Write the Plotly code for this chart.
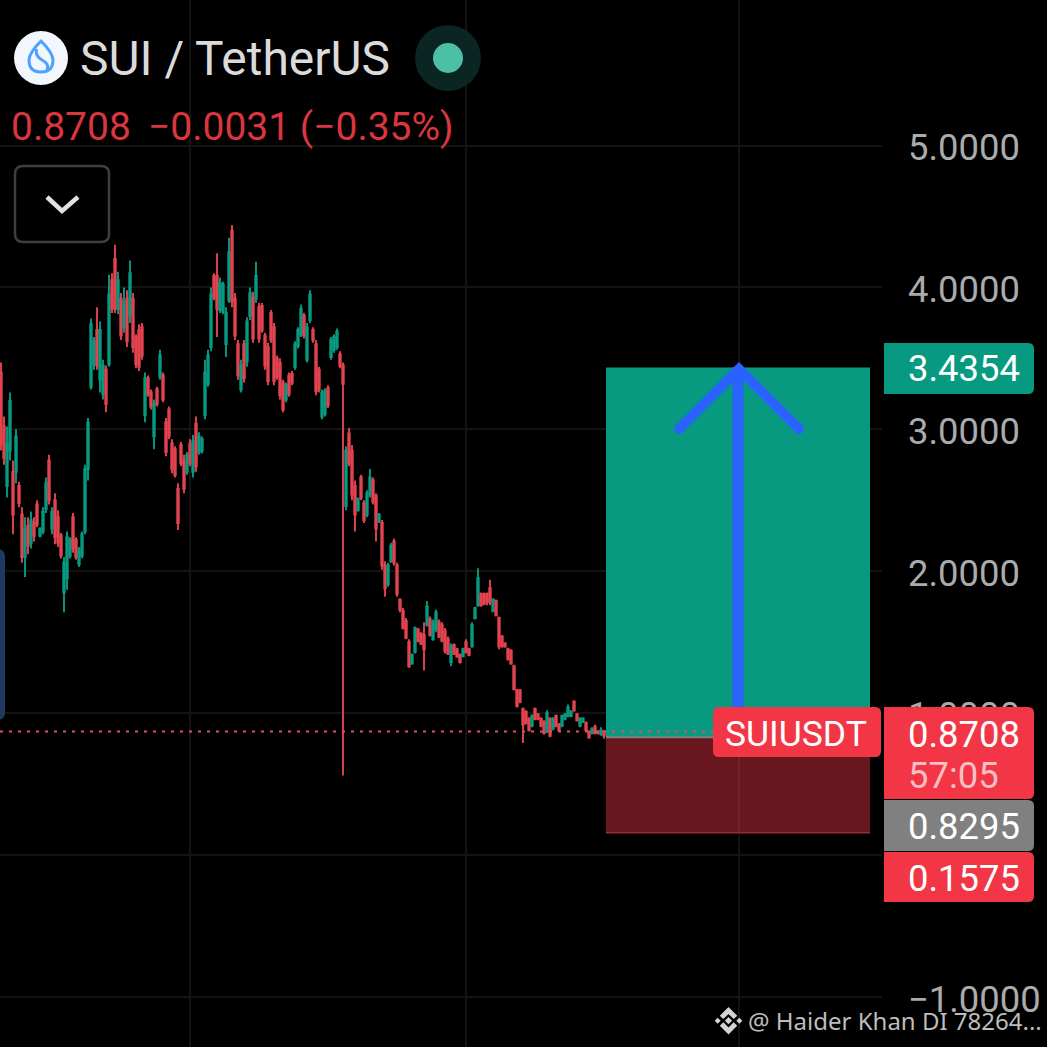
import plotly.graph_objects as go

# ---- data ----
highs = [3.47,3.09,3.02,3.26,2.78,3.00,2.63,2.45,2.38,2.38,2.42,2.38,2.50,2.31,2.45,2.66,2.82,2.45,2.55,2.43,2.27,2.10,2.28,2.24,2.41,2.24,2.17,2.28,2.75,3.08,3.78,
3.65,3.86,3.76,3.49,3.45,4.09,4.10,4.30,4.11,3.96,4.00,3.98,4.19,3.96,3.67,3.74,3.75,3.40,3.38,3.28,3.21,3.30,3.56,3.40,3.08,3.16,2.93,2.88,2.62,2.91,2.82,2.84,2.93,2.96,3.09,2.98,2.95,3.49,3.56,4.00,4.10,4.24,4.07,4.04,3.86,4.35,4.44,3.96,3.63,3.49,3.63,3.79,4.00,3.97,4.18,3.89,3.89,3.68,3.61,3.84,3.75,3.52,3.50,3.35,3.33,3.40,3.41,3.62,3.72,3.88,3.82,3.75,3.98,3.72,3.63,3.44,3.28,3.29,3.31,3.65,3.67,3.71,3.55,3.47,
2.88,3.01,2.89,2.64,2.52,2.68,2.50,2.57,2.72,2.66,2.55,2.41,2.36,2.07,2.06,2.20,2.23,2.06,1.81,1.74,1.67,1.52,1.42,1.61,1.60,1.57,1.64,1.79,1.68,1.66,1.73,1.66,1.64,1.60,1.54,1.49,1.49,1.46,1.42,1.46,1.52,1.46,1.64,1.75,2.02,1.85,1.85,1.85,1.94,1.81,1.80,1.68,1.55,1.50,1.46,1.45,1.34,1.17,1.17,1.04,1.02,0.97,0.99,1.04,1.00,0.97,0.95,1.02,0.97,0.97,0.99,0.93,0.99,1.00,1.06,1.02,1.09,1.00,0.97,0.97,0.94,0.88,0.90,0.92,0.88,0.90,0.88,0.88]
lows = [2.85,2.75,2.52,2.78,2.26,2.62,2.45,2.06,1.96,2.12,2.16,2.21,2.31,2.24,2.26,2.41,2.47,2.26,2.19,2.17,2.09,1.71,1.87,2.09,2.13,2.08,2.03,2.09,2.26,2.64,3.28,
3.42,3.42,3.26,3.21,3.12,3.44,3.82,3.82,3.81,3.63,3.68,3.58,3.75,3.54,3.43,3.41,3.49,3.05,3.23,3.14,2.86,3.16,3.35,3.19,2.81,2.93,2.69,2.66,2.29,2.74,2.55,2.68,2.74,2.66,2.70,2.82,2.83,3.07,3.30,3.55,3.91,3.65,3.82,3.81,3.51,3.89,3.86,3.63,3.35,3.26,3.33,3.44,3.77,3.61,3.89,3.61,3.68,3.42,3.31,3.61,3.31,3.35,3.21,3.12,3.19,3.23,3.31,3.42,3.57,3.65,3.64,3.47,3.75,3.61,3.24,3.26,3.07,3.09,3.15,3.49,3.54,3.56,3.43,0.56,
2.43,2.74,2.50,2.28,2.42,2.50,2.34,2.38,2.52,2.47,2.21,2.34,2.01,1.82,1.89,2.06,2.04,1.82,1.71,1.59,1.52,1.32,1.34,1.42,1.50,1.48,1.30,1.61,1.54,1.51,1.57,1.53,1.50,1.42,1.41,1.33,1.41,1.39,1.35,1.40,1.42,1.40,1.46,1.66,1.75,1.75,1.76,1.76,1.76,1.71,1.68,1.45,1.46,1.46,1.37,1.34,1.16,1.04,1.07,0.79,0.92,0.87,0.90,0.95,0.95,0.90,0.85,0.86,0.83,0.88,0.90,0.87,0.90,0.95,0.97,0.97,1.01,0.94,0.90,0.93,0.87,0.82,0.85,0.85,0.85,0.84,0.82,0.83]
opens = [3.40,3.02,2.60,2.85,2.70,2.70,2.60,2.40,2.10,2.32,2.20,2.34,2.47,2.25,2.28,2.44,2.78,2.30,2.50,2.38,2.25,1.85,1.95,2.11,2.38,2.22,2.05,2.11,2.28,2.72,3.30,
3.46,3.70,3.35,3.25,3.42,3.46,4.05,4.20,3.85,3.92,3.72,3.92,3.80,3.92,3.65,3.70,3.72,3.10,3.36,3.26,2.95,3.28,3.37,3.38,3.05,3.14,2.90,2.86,2.58,2.89,2.78,2.70,2.90,2.70,3.04,2.84,2.85,3.10,3.32,3.58,4.08,4.08,3.84,3.83,3.60,3.91,4.40,3.92,3.60,3.28,3.60,3.48,3.80,3.93,3.92,3.86,3.87,3.66,3.58,3.82,3.72,3.50,3.47,3.33,3.21,3.38,3.39,3.44,3.59,3.67,3.80,3.49,3.77,3.70,3.60,3.42,3.09,3.11,3.29,3.51,3.56,3.58,3.53,3.45,
2.46,2.97,2.85,2.60,2.43,2.66,2.48,2.40,2.54,2.64,2.53,2.35,2.34,2.04,1.91,2.07,2.21,2.04,1.80,1.72,1.65,1.50,1.35,1.43,1.59,1.56,1.55,1.62,1.66,1.52,1.59,1.64,1.62,1.58,1.52,1.36,1.48,1.45,1.41,1.40,1.50,1.45,1.47,1.67,1.76,1.84,1.84,1.84,1.88,1.72,1.79,1.67,1.54,1.49,1.45,1.44,1.33,1.16,1.16,1.03,1.01,0.96,0.91,1.03,0.99,0.96,0.94,0.87,0.96,0.89,0.98,0.92,0.91,0.96,0.98,0.98,1.08,0.99,0.91,0.94,0.93,0.87,0.86,0.90,0.87,0.85,0.87,0.87]
closes = [2.90,2.80,2.90,3.20,2.40,2.95,2.48,2.10,2.30,2.18,2.36,2.25,2.33,2.30,2.42,2.62,2.50,2.42,2.24,2.20,2.11,2.06,2.24,2.22,2.16,2.10,2.15,2.26,2.72,3.05,3.74,
3.62,3.45,3.70,3.45,3.18,3.95,3.85,3.85,4.05,3.66,3.90,3.62,4.10,3.58,3.46,3.44,3.52,3.36,3.25,3.16,3.18,3.18,3.52,3.21,2.84,2.95,2.72,2.68,2.34,2.76,2.58,2.82,2.76,2.92,2.74,2.95,2.93,3.40,3.52,3.95,3.93,3.85,4.03,4.02,3.82,4.25,3.90,3.66,3.38,3.45,3.36,3.76,3.96,3.64,4.08,3.64,3.70,3.45,3.34,3.63,3.34,3.37,3.24,3.14,3.31,3.25,3.33,3.60,3.70,3.85,3.66,3.72,3.95,3.63,3.27,3.28,3.26,3.27,3.17,3.63,3.65,3.69,3.45,3.32,
2.85,2.76,2.54,2.40,2.51,2.52,2.36,2.55,2.66,2.49,2.30,2.40,2.04,1.88,2.04,2.18,2.06,1.84,1.73,1.60,1.53,1.33,1.41,1.60,1.51,1.49,1.45,1.75,1.55,1.64,1.71,1.54,1.51,1.44,1.42,1.47,1.42,1.40,1.36,1.45,1.43,1.41,1.62,1.74,1.95,1.76,1.77,1.78,1.78,1.80,1.69,1.47,1.47,1.47,1.38,1.35,1.17,1.05,1.08,0.92,0.93,0.88,0.98,0.96,0.96,0.91,0.86,1.00,0.84,0.96,0.91,0.88,0.98,0.99,1.04,1.01,1.02,0.95,0.96,0.96,0.88,0.83,0.89,0.86,0.86,0.88,0.84,0.8708]

price_ticks = [5, 4, 3, 2, 1, 0, -1]
tick_labels = ["5.0000", "4.0000", "3.0000", "2.0000", "1.0000", "", "\u22121.0000"]
target_price = 3.4354
entry_price = 0.8295
stop_price = 0.1575
last_price = 0.8708
last_text = "0.8708"
change_text = "\u22120.0031 (\u22120.35%)"
title_text = "SUI / TetherUS"
symbol_text = "SUIUSDT"
countdown_text = "57:05"
watermark_text = "@ Haider Khan DI 78264..."

GREEN = "#089981"
RED = "#F23645"
BLUE = "#2962FF"
GRID = "#131313"
W = 1047.0
FONT = "Roboto"

bars = list(range(len(highs)))
plot_right = 882.0
bar_step = 3.0
x_range = [-1 / bar_step, (plot_right - 1) / bar_step]
unit = 141.9
y_range = [-(W - 855) / unit, 855 / unit]


def X(p):
    return p / W


def Y(p):
    return 1 - p / W


def rbox(x0, y0, x1, y1, r=6, left=True):
    rl = r if left else 0
    return (f"M{X(x0+rl)},{Y(y0)} L{X(x1-r)},{Y(y0)} Q{X(x1)},{Y(y0)} {X(x1)},{Y(y0+r)} "
            f"L{X(x1)},{Y(y1-r)} Q{X(x1)},{Y(y1)} {X(x1-r)},{Y(y1)} L{X(x0+rl)},{Y(y1)} "
            f"Q{X(x0)},{Y(y1)} {X(x0)},{Y(y1-rl)} L{X(x0)},{Y(y0+rl)} Q{X(x0)},{Y(y0)} {X(x0+rl)},{Y(y0)} Z")


def poly(points, close=False):
    s = "M" + " L".join(f"{X(a)},{Y(b)}" for a, b in points)
    return s + (" Z" if close else "")


def circle(cx, cy, r, fill):
    return dict(type="circle", xref="paper", yref="paper", x0=X(cx - r), x1=X(cx + r),
                y0=Y(cy + r), y1=Y(cy - r), fillcolor=fill, line_width=0)


def path(d, fill="rgba(0,0,0,0)", color="rgba(0,0,0,0)", width=0):
    return dict(type="path", xref="paper", yref="paper", path=d, fillcolor=fill,
                line=dict(color=color, width=width))


fig = go.Figure(go.Candlestick(
    x=bars, open=opens, high=highs, low=lows, close=closes,
    increasing=dict(line=dict(color=GREEN, width=1.9), fillcolor=GREEN),
    decreasing=dict(line=dict(color="#E2434F", width=1.9), fillcolor="#E2434F"),
    whiskerwidth=0, hoverinfo="skip", showlegend=False,
))

rect_x0 = (606 - 1) / bar_step
rect_x1 = (870 - 1) / bar_step
shapes = [
    dict(type="rect", xref="x", yref="y", x0=rect_x0, x1=rect_x1, y0=entry_price, y1=target_price,
         fillcolor=GREEN, line_width=0),
    dict(type="rect", xref="x", yref="y", x0=rect_x0, x1=rect_x1, y0=stop_price, y1=entry_price,
         fillcolor="rgba(242,54,69,0.43)", line_width=0),
    dict(type="line", xref="x", yref="y", x0=rect_x0, x1=rect_x1, y0=stop_price, y1=stop_price,
         line=dict(color="#9c2a35", width=1.5)),
    dict(type="line", xref="x", yref="y", x0=rect_x0, x1=rect_x1, y0=entry_price, y1=entry_price,
         line=dict(color="#808080", width=2)),
    # arrow
    path(poly([(738, 712), (738, 367)]), color=BLUE, width=11),
    path(poly([(679, 429), (739, 369), (799, 429)]), color=BLUE, width=10),
    circle(679, 429, 5, BLUE),
    circle(799, 429, 5, BLUE),
    # last price line
    dict(type="line", xref="paper", yref="y", x0=0, x1=X(plot_right), y0=last_price, y1=last_price,
         line=dict(color="#e0505c", width=2, dash="3px,6px")),
    # tags
    path(rbox(713, 707, 881, 757, 6), fill=RED),
    path(rbox(884, 707, 1034, 799, 6, left=False), fill=RED),
    path(rbox(884, 800, 1034, 851, 6, left=False), fill="#808080"),
    path(rbox(884, 852, 1034, 902, 6, left=False), fill=RED),
    path(rbox(884, 343, 1034, 394, 6, left=False), fill=GREEN),
    # left tab
    path(rbox(-10, 549, 5, 720, 8), fill="#1d3a5e"),
    # button
    path(rbox(15, 166, 109, 242, 8), fill="#000000", color="#3f3f3f", width=2.5),
    path(poly([(47, 197), (62, 211), (78, 197)]), color="#e2e2e2", width=4.5),
    # header icons
    circle(41, 58, 27, "#F2F7FE"),
    path(f"M{X(41)},{Y(41)} Q{X(53)},{Y(53)} {X(53)},{Y(60)} Q{X(53)},{Y(72)} {X(41)},{Y(72)} "
         f"Q{X(29)},{Y(72)} {X(29)},{Y(60)} Q{X(29)},{Y(53)} {X(41)},{Y(41)} Z", color="#4DA2FF", width=3),
    path(f"M{X(36.5)},{Y(49)} Q{X(35)},{Y(56)} {X(42)},{Y(60)} Q{X(50)},{Y(64)} {X(47)},{Y(70)}", color="#4DA2FF", width=3),
    circle(448, 58, 33, "#0B2522"),
    circle(448, 58, 15, "#4CBFA6"),
]
# watermark logo
cx, cy = 728.5, 1020.7
for dx, s in [(0, 3.6), (-10.8, 3.0), (10.8, 3.0)]:
    shapes.append(path(poly([(cx+dx-s, cy), (cx+dx, cy-s), (cx+dx+s, cy), (cx+dx, cy+s)], True), fill="#d4d4d4"))
for sgn in (-1, 1):
    shapes.append(path(poly([(cx, cy+sgn*13.7), (cx+8.7, cy+sgn*5), (cx+5.2, cy+sgn*1.6), (cx, cy+sgn*6.8),
                             (cx-5.2, cy+sgn*1.6), (cx-8.7, cy+sgn*5)], True), fill="#d4d4d4"))


def note(text, x, y, size, color, family=FONT):
    return dict(text=text, xref="paper", yref="paper", x=X(x), y=Y(y), xanchor="left", yanchor="middle",
                showarrow=False, borderpad=0, font=dict(family=family, size=size, color=color))


annotations = [
    note(title_text, 79, 59, 47.9, "#DBDBDB"),
    note(last_text, 10, 127, 39, "#D9363F"),
    note(change_text, 147, 127, 39, "#D9363F"),
    note(symbol_text, 724, 734, 35.5, "#FFFFFF"),
    note(last_text, 907, 734, 36.4, "#FFFFFF"),
    note(countdown_text, 907, 775, 36.4, "#F8BFC4"),
    note(f"{entry_price:.4f}", 907, 826, 36.4, "#FFFFFF"),
    note(f"{stop_price:.4f}", 907, 878, 36.4, "#FFFFFF"),
    note(f"{target_price:.4f}", 907, 369, 36.4, "#FFFFFF"),
    note(watermark_text, 747, 1020, 24, "#BDBDBD", "Noto Sans"),
]

fig.update_layout(
    width=1047, height=1047, autosize=False,
    margin=dict(l=0, r=0, t=0, b=0, pad=0),
    paper_bgcolor="#000000", plot_bgcolor="#000000",
    showlegend=False,
    shapes=shapes, annotations=annotations,
    xaxis=dict(domain=[0, plot_right / W], range=x_range, rangeslider=dict(visible=False),
               showgrid=True, gridcolor=GRID, gridwidth=2, zeroline=False, showticklabels=False,
               tickmode="array", tickvals=[(190 - 1) / bar_step, (466 - 1) / bar_step, (739 - 1) / bar_step],
               ticks="", fixedrange=True),
    yaxis=dict(domain=[0, 1], range=y_range, side="right", showgrid=True, gridcolor=GRID, gridwidth=2,
               zeroline=False, tickmode="array", tickvals=price_ticks, ticktext=tick_labels,
               tickfont=dict(family=FONT, size=36.4, color="#ABABAB"), ticks="", ticklabelstandoff=25,
               ticklabelshift=2, fixedrange=True, automargin=False),
)

fig.write_html("out.html", config=dict(displayModeBar=False),
               post_script="document.body.style.margin='0';document.body.style.background='#000';")
